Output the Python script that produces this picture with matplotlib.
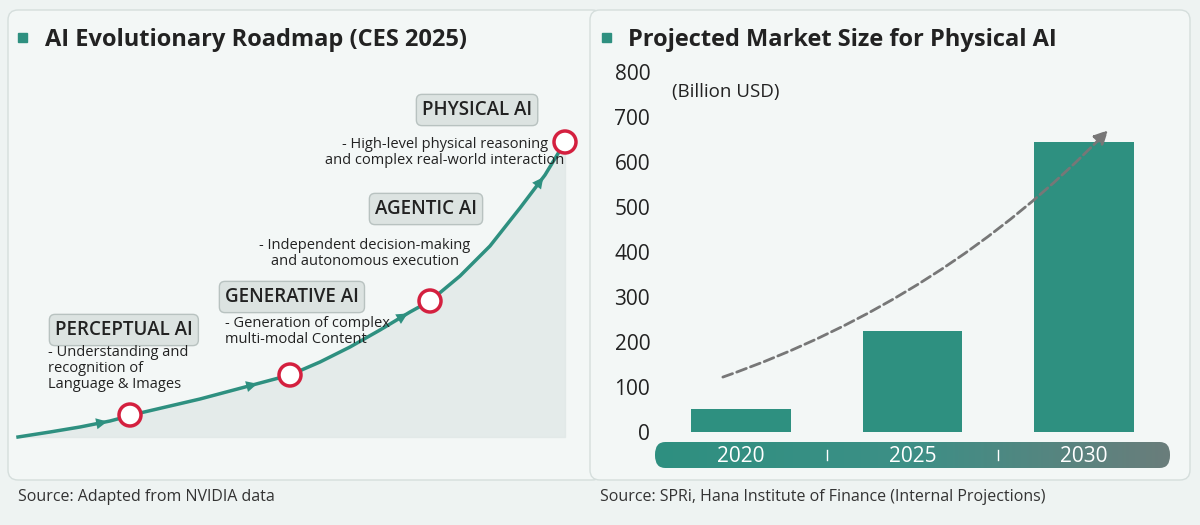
import matplotlib.pyplot as plt
from matplotlib.patches import FancyBboxPatch, Circle
from matplotlib.colors import LinearSegmentedColormap
import numpy as np

# data
years = ['2020', '2025', '2030']
market = [52, 225, 645]
curve_x = [18, 50, 80, 110, 140, 170, 200, 230, 260, 290, 320, 350, 380, 410, 430, 460, 490, 520, 545, 565]
curve_y = [437, 432, 427, 421, 413, 406, 399, 391, 383, 375, 362, 347, 330, 312, 301, 276, 246, 208, 175, 142]
stage_x = [130, 290, 430, 565]
stage_y = [415, 375, 301, 142]
stages = ['PERCEPTUAL AI', 'GENERATIVE AI', 'AGENTIC AI', 'PHYSICAL AI']
stage_pos = [(55, 330), (225, 297), (375, 209), (422, 110)]
stage_desc = ['- Understanding and\nrecognition of\nLanguage & Images',
              '- Generation of complex\nmulti-modal Content',
              '- Independent decision-making\nand autonomous execution',
              '- High-level physical reasoning\nand complex real-world interaction']
desc_pos = [(48, 345, 'left'), (225, 316, 'left'), (365, 238, 'center'), (445, 137, 'center')]
arrow_idx = [3, 8, 13, 18]  # curve points where arrowheads sit

teal = '#2e9080'
plt.rcParams['font.family'] = 'Open Sans'
fig = plt.figure(figsize=(12, 5.25), dpi=100, facecolor='#eef3f2')

# ---- both panels drawn in pixel coordinates
ax1 = plt.axes([0, 0, 1, 1], facecolor='none')
ax1.set_xlim(0, 1200)
ax1.set_ylim(525, 0)
ax1.axis('off')
for x0 in (8, 590):
    ax1.add_patch(FancyBboxPatch((x0, 10), 594 if x0 == 8 else 600, 470, boxstyle='round,pad=0,rounding_size=10',
                                 fc='#f3f7f6', ec='#d5dedc', lw=1))
ax1.add_patch(plt.Rectangle((18, 33), 9, 9, color=teal))
ax1.text(45, 40, 'AI Evolutionary Roadmap (CES 2025)', fontsize=17, va='center', color='#222', weight='bold')
ax1.add_patch(plt.Rectangle((602, 33), 9, 9, color=teal))
ax1.text(628, 40, 'Projected Market Size for Physical AI', fontsize=17, va='center', color='#222', weight='bold')
ax1.text(18, 497, 'Source: Adapted from NVIDIA data', fontsize=11.5, va='center', color='#333')
ax1.text(600, 497, 'Source: SPRi, Hana Institute of Finance (Internal Projections)', fontsize=11.5, va='center', color='#333')

cx = np.array(curve_x)
cy = np.array(curve_y)
ax1.fill_between(cx, cy, 437, color='#dfe7e5', alpha=0.7)
ax1.plot(cx, cy, color=teal, lw=2.5)
for j in arrow_idx:
    ax1.annotate('', xy=(cx[j], cy[j]), xytext=(cx[j - 1], cy[j - 1]),
                 arrowprops=dict(arrowstyle='-|>', color=teal, lw=0, mutation_scale=20))
for i in range(len(stage_x)):
    ax1.add_patch(Circle((stage_x[i], stage_y[i]), 11, fc='white', ec='#d4203f', lw=2.5, zorder=5))
    tx, ty = stage_pos[i]
    ax1.text(tx, ty, stages[i], fontsize=13.5, va='center', color='#222', weight='semibold',
             bbox=dict(boxstyle='round,pad=0.3', fc='#dce3e1', ec='#b8c2c0'))
    dx, dy, ha = desc_pos[i]
    ax1.text(dx, dy, stage_desc[i], fontsize=10.5, va='top', ha=ha, color='#222', linespacing=1.1)

# ---- right panel bar chart
ax2 = plt.axes([655 / 1200, 1 - 432 / 525, 515 / 1200, 360 / 525], facecolor='none')
xpos = np.arange(len(years))
ax2.bar(xpos, market, width=0.58, color=teal)
ax2.set_xlim(-0.5, 2.5)
ax2.set_ylim(0, 800)
ax2.set_yticks(range(0, 801, 100))
ax2.tick_params(axis='y', labelsize=15, length=0, colors='#222')
ax2.set_xticks([])
for s in ax2.spines.values():
    s.set_visible(False)
ax2.text(-0.4, 755, '(Billion USD)', fontsize=13.5, color='#222', va='center')
ax2.annotate('', xy=(2.15, 675), xytext=(-0.12, 120),
             arrowprops=dict(arrowstyle='-|>', color='#777', lw=2, ls='--',
                             connectionstyle='arc3,rad=0.12', mutation_scale=20))

# pill with gradient for the years
ax3 = plt.axes([655 / 1200, 1 - 468 / 525, 515 / 1200, 26 / 525])
grad = np.linspace(0, 1, 256).reshape(1, -1)
cmap = LinearSegmentedColormap.from_list('g', [teal, '#3d8f86', '#6a7d7b'])
im = ax3.imshow(grad, aspect='auto', cmap=cmap, extent=(-0.5, 2.5, 0, 1))
ax3.set_xlim(-0.5, 2.5)
ax3.set_ylim(0, 1)
ax3.axis('off')
pill = FancyBboxPatch((-0.5, 0), 3, 1, boxstyle='round,pad=0,rounding_size=0.06',
                      mutation_aspect=8, transform=ax3.transData, fc='none', ec='none')
ax3.add_patch(pill)
im.set_clip_path(pill)
for i, y in enumerate(years):
    ax3.text(xpos[i], 0.45, y, fontsize=15, color='white', ha='center', va='center')
for b in (0.5, 1.5):
    ax3.plot([b, b], [0.3, 0.7], color='white', lw=1)

plt.savefig('out.png', facecolor=fig.get_facecolor())
